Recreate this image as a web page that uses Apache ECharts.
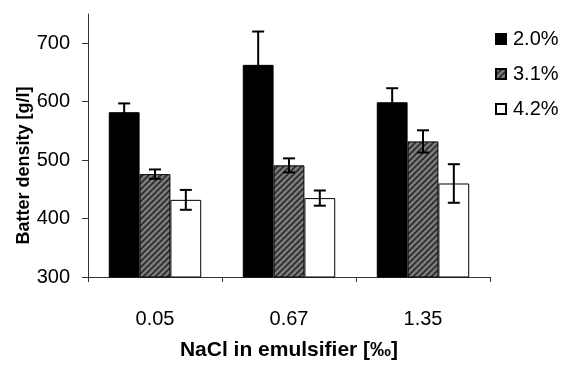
<!DOCTYPE html>
<html>
<head>
<meta charset="utf-8">
<script src="https://cdn.jsdelivr.net/npm/echarts@6/dist/echarts.min.js"></script>
<style>
  html, body { margin: 0; padding: 0; background: #fff; }
  #chart { width: 563px; height: 366px; }
</style>
</head>
<body>
<div id="chart"></div>
<script>
// data
let categories = ['0.05', '0.67', '1.35']
let seriesNames = ['2.0%', '3.1%', '4.2%']
let val20 = [582, 663, 599]
let val31 = [476, 491, 532]
let val42 = [432, 435, 460]
let err20 = [15, 57, 24]
let err31 = [8, 12, 19]
let err42 = [17, 13, 33]
let yTicks = [300, 400, 500, 600, 700]

let values = [val20, val31, val42]
let errors = [err20, err31, err42]
let gap = 0.31

// grey hatch like the printed figure
function hatchPattern() {
    let c = document.createElement('canvas')
    c.width = 6
    c.height = 6
    let ctx = c.getContext('2d')
    ctx.fillStyle = '#7c7c7c'
    ctx.fillRect(0, 0, 6, 6)
    ctx.strokeStyle = '#2a2a2a'
    ctx.lineWidth = 1.6
    ctx.beginPath()
    ctx.moveTo(-1, 7); ctx.lineTo(7, -1)
    ctx.moveTo(-1, 1); ctx.lineTo(1, -1)
    ctx.moveTo(5, 7); ctx.lineTo(7, 5)
    ctx.stroke()
    return c
}

let fills = ['#000000', { image: hatchPattern(), repeat: 'repeat' }, '#ffffff']

let font = 'Liberation Sans, Arial, sans-serif'
let series = []
values.forEach(function (v, i) {
    series.push({
        name: seriesNames[i],
        type: 'bar',
        data: v,
        barGap: 0,
        barCategoryGap: (gap * 100) + '%',
        itemStyle: { color: fills[i], borderColor: '#000', borderWidth: 1 }
    })
})

// error bars
series.push({
    type: 'custom',
    z: 5,
    data: categories.map(function (c, ci) {
        return [ci].concat(values.map(function (v) { return v[ci] }), errors.map(function (e) { return e[ci] }))
    }),
    renderItem: function (params, api) {
        let ci = api.value(0)
        let band = api.size([1, 0])[0]
        let bw = band * (1 - gap) / 3
        let children = []
        for (let si = 0; si < 3; si++) {
            let v = api.value(1 + si)
            let e = api.value(4 + si)
            let center = api.coord([ci, v])
            let x = center[0] + (si - 1) * bw
            let top = api.coord([ci, v + e])[1]
            let bot = api.coord([ci, v - e])[1]
            let cap = 6
            let st = { stroke: '#000', lineWidth: 2 }
            children.push({ type: 'line', shape: { x1: x, y1: top, x2: x, y2: bot }, style: st })
            children.push({ type: 'line', shape: { x1: x - cap, y1: top, x2: x + cap, y2: top }, style: st })
            children.push({ type: 'line', shape: { x1: x - cap, y1: bot, x2: x + cap, y2: bot }, style: st })
        }
        return { type: 'group', children: children }
    },
    silent: true
})

let myChart = echarts.init(document.getElementById('chart'))
let option = {
    animation: false,
    backgroundColor: '#fff',
    textStyle: { fontFamily: font, color: '#000' },
    grid: { left: 88, right: 73, top: 14, bottom: 78 },
    legend: {
        data: seriesNames,
        orient: 'vertical',
        left: 490,
        top: 24,
        itemWidth: 10,
        itemHeight: 10,
        itemGap: 15,
        icon: 'rect',
        textStyle: { fontSize: 20, color: '#000', fontFamily: font, padding: [0, 0, 0, 2] }
    },
    xAxis: {
        type: 'category',
        data: categories,
        name: 'NaCl in emulsifier [‰]',
        nameLocation: 'middle',
        nameGap: 63,
        nameMoveOverlap: false,
        nameTextStyle: { fontSize: 21, fontWeight: 'bold', color: '#000' },
        axisLine: { lineStyle: { color: '#333', width: 1 } },
        axisTick: { show: true, length: 5, lineStyle: { color: '#333' } },
        axisLabel: { fontSize: 20, color: '#000', margin: 32 }
    },
    yAxis: {
        type: 'value',
        min: 300,
        max: 750,
        interval: 50,
        name: 'Batter density [g/l]',
        nameLocation: 'middle',
        nameGap: 55,
        nameMoveOverlap: false,
        nameTextStyle: { fontSize: 18, fontWeight: 'bold', color: '#000', padding: [0, 40, 0, 0] },
        axisLine: { show: true, lineStyle: { color: '#333', width: 1 } },
        axisTick: { show: true, length: 6, customValues: yTicks, lineStyle: { color: '#333' } },
        axisLabel: { fontSize: 20, color: '#000', margin: 18, customValues: yTicks },
        splitLine: { show: false }
    },
    series: series
}
myChart.setOption(option)
</script>
</body>
</html>
